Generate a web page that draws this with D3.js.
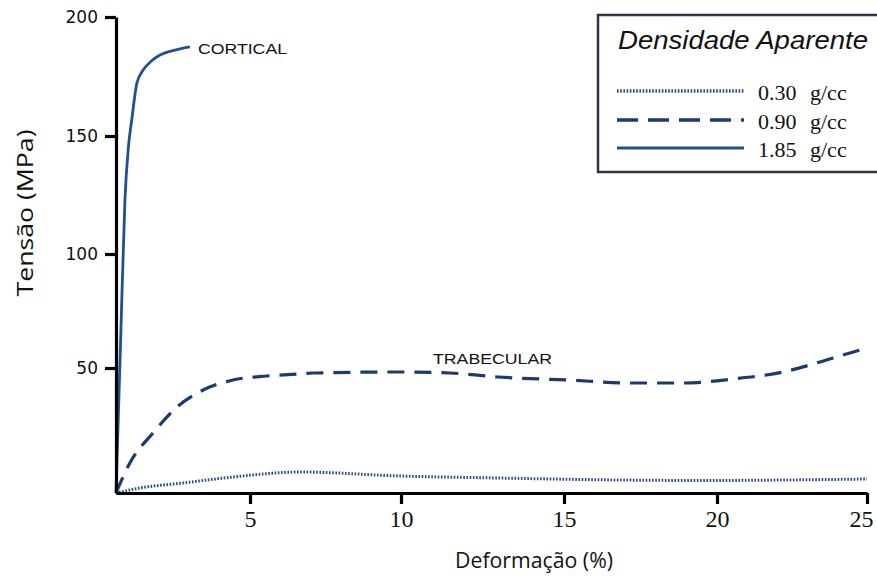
<!DOCTYPE html>
<html>
<head>
<meta charset="utf-8">
<script src="https://cdn.jsdelivr.net/npm/d3@7"></script>
<style>
  body { margin: 0; background: #fff; }
  svg { display: block; }
</style>
</head>
<body>
<div id="chart"></div>
<script>
// values (strain %, stress MPa)
var corticalStrain = [0.65, 0.8, 0.94, 1.05, 1.16, 1.33, 1.53, 1.8, 2.08, 2.57, 3.05];
var corticalStress = [0, 62, 123, 145, 156.7, 172.3, 177.7, 181.5, 184, 186.1, 187.4];

var trabStrain = [0.65, 1.1, 1.85, 2.63, 3.48, 4.45, 5.56, 6.56, 7.09, 9.97, 11.5, 12.98, 15.1, 17.25, 18.9, 20.53, 22.2, 23.87, 25];
var trabStress = [0, 12, 24, 34.4, 41.2, 45.2, 46.8, 47.6, 48, 48.4, 48, 46.4, 45.2, 44, 44, 45.6, 48.4, 54.4, 58.8];

var lowStrain = [0.65, 1.43, 2.83, 4.45, 6.66, 9.97, 12.98, 16.83, 19.44, 25];
var lowStress = [0, 2, 4, 6.4, 8.4, 6.8, 6, 5.2, 5, 5.6];

var xTicks = [5, 10, 15, 20, 25];
var yTicks = [50, 100, 150, 200];
var legendLabels = ["0.30", "0.90", "1.85"];
var legendUnit = "g/cc";

var width = 877, height = 579;

var svg = d3.select("#chart").append("svg")
    .attr("width", width)
    .attr("height", height);

// the scan is a bit uneven, so the scales follow the tick marks
var xScale = d3.scaleLinear()
    .domain([0.65, 5, 10, 15, 20, 25])
    .range([116, 250, 401, 564, 717, 867]);
var yScale = d3.scaleLinear()
    .domain([0, 50, 100, 150, 200])
    .range([493, 368, 254, 136, 17]);

var line = d3.line()
    .x(d => xScale(d[0]))
    .y(d => yScale(d[1]))
    .curve(d3.curveMonotoneX);

function pairs(xs, ys) { return xs.map((x, i) => [x, ys[i]]); }

var series = [
  {data: pairs(lowStrain, lowStress), color: "#2b4d80", width: 3, dash: "1.6,1.6", legendDash: "1.6,1.6"},
  {data: pairs(trabStrain, trabStress), color: "#1c3b6c", width: 3.2, dash: "17,10", legendDash: "21,10"},
  {data: pairs(corticalStrain, corticalStress), color: "#22508f", width: 2.8, dash: null, legendDash: null}
];

svg.selectAll(".curve")
  .data(series)
  .enter()
  .append("path")
    .attr("class", "curve")
    .attr("d", d => line(d.data))
    .attr("fill", "none")
    .attr("stroke", d => d.color)
    .attr("stroke-width", d => d.width)
    .attr("stroke-dasharray", d => d.dash);

// axes
var xAxis = d3.axisBottom(xScale).tickValues(xTicks).tickSize(11).tickSizeOuter(0).tickPadding(6);
var yAxis = d3.axisLeft(yScale).tickValues(yTicks).tickSize(11).tickSizeOuter(0).tickPadding(7);

var gx = svg.append("g")
    .attr("transform", "translate(0," + yScale(0) + ")")
    .call(xAxis);
var gy = svg.append("g")
    .attr("transform", "translate(" + xScale(0.65) + ",0)")
    .call(yAxis);

[gx, gy].forEach(g => {
  g.select(".domain").attr("stroke", "#000").attr("stroke-width", 3.2);
  g.selectAll(".tick line").attr("stroke", "#000").attr("stroke-width", 3.2);
});
gx.selectAll(".tick text")
    .attr("fill", "#111")
    .attr("dx", d => d === 25 ? -6 : 0)
    .style("font-family", "'Liberation Serif', 'DejaVu Serif', serif")
    .style("font-size", "24px");
gy.selectAll(".tick text")
    .attr("fill", "#111")
    .style("font-family", "'DejaVu Sans', sans-serif")
    .style("font-size", "17px");

// axis titles
svg.append("text")
    .attr("x", 534).attr("y", 568)
    .attr("text-anchor", "middle")
    .attr("textLength", 158).attr("lengthAdjust", "spacingAndGlyphs")
    .style("font-family", "'Open Sans', sans-serif")
    .style("font-size", "22px")
    .attr("fill", "#111")
    .text("Deformação (%)");

svg.append("text")
    .attr("transform", "translate(33,213) rotate(-90)")
    .attr("text-anchor", "middle")
    .attr("textLength", 167).attr("lengthAdjust", "spacingAndGlyphs")
    .style("font-family", "'Open Sans', sans-serif")
    .style("font-size", "22px")
    .attr("fill", "#111")
    .text("Tensão (MPa)");

// curve labels
svg.append("text")
    .attr("x", 198).attr("y", 54)
    .attr("textLength", 89).attr("lengthAdjust", "spacingAndGlyphs")
    .style("font-family", "'Liberation Sans', Arial, sans-serif")
    .style("font-size", "14px")
    .attr("fill", "#111")
    .text("CORTICAL");

svg.append("text")
    .attr("x", 433).attr("y", 364)
    .attr("textLength", 119).attr("lengthAdjust", "spacingAndGlyphs")
    .style("font-family", "'Liberation Sans', Arial, sans-serif")
    .style("font-size", "15px")
    .attr("fill", "#111")
    .text("TRABECULAR");

// legend
var legend = svg.append("g");
legend.append("rect")
    .attr("x", 598).attr("y", 15)
    .attr("width", 290).attr("height", 157)
    .attr("fill", "#fff")
    .attr("stroke", "#2e3646")
    .attr("stroke-width", 2.5);

legend.append("text")
    .attr("x", 618).attr("y", 49)
    .attr("textLength", 250).attr("lengthAdjust", "spacingAndGlyphs")
    .style("font-family", "'Liberation Sans', Arial, sans-serif")
    .style("font-style", "italic")
    .style("font-size", "25px")
    .attr("fill", "#111")
    .text("Densidade Aparente");

var legendY = [91, 120, 148];
var items = legend.selectAll(".item")
  .data(series)
  .enter()
  .append("g")
    .attr("class", "item")
    .attr("transform", (d, i) => "translate(0," + legendY[i] + ")");

items.append("line")
    .attr("x1", 617).attr("x2", 744)
    .attr("stroke", d => d.color)
    .attr("stroke-width", d => d.width + 0.4)
    .attr("stroke-dasharray", d => d.legendDash);

var labels = items.append("text")
    .attr("y", 9)
    .style("font-family", "'Liberation Serif', 'DejaVu Serif', serif")
    .style("font-size", "22px")
    .attr("fill", "#111");
labels.append("tspan").attr("x", 758).text((d, i) => legendLabels[i]);
labels.append("tspan").attr("x", 810).text(legendUnit);
</script>
</body>
</html>
